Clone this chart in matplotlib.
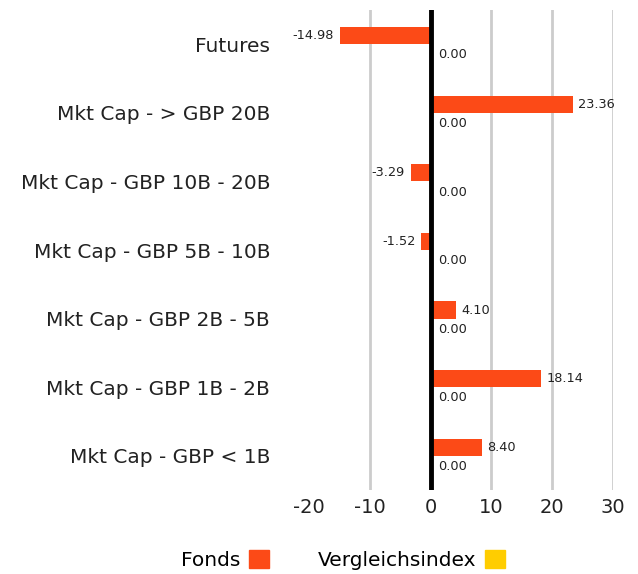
import matplotlib
matplotlib.use('Agg')
import numpy as np
import matplotlib.pyplot as plt
from matplotlib.patches import Patch

# dados
categorias = ['Futures', 'Mkt Cap - > GBP 20B', 'Mkt Cap - GBP 10B - 20B',
              'Mkt Cap - GBP 5B - 10B', 'Mkt Cap - GBP 2B - 5B',
              'Mkt Cap - GBP 1B - 2B', 'Mkt Cap - GBP < 1B']
fonds = [-14.98, 23.36, -3.29, -1.52, 4.10, 18.14, 8.40]
vergleichsindex = [0.00, 0.00, 0.00, 0.00, 0.00, 0.00, 0.00]
xticks = [-20, -10, 0, 10, 20, 30]

cor_fonds = '#fc4a17'
cor_index = '#ffcd00'

plt.rcParams['font.family'] = ['DejaVu Sans']

fig = plt.figure(figsize=(6.38, 5.74), dpi=100)
ax = fig.add_axes([309/638, 1 - 490/574, 304/638, 480/574])

y = np.arange(len(categorias))
h = 0.25
ax.barh(y - h/2, fonds, height=h, color=cor_fonds, zorder=3)
ax.barh(y + h/2, vergleichsindex, height=h, color=cor_index, zorder=3)

# rótulos de valor
for i, v in enumerate(fonds):
    if v < 0:
        ax.text(v - 0.9, y[i] - h/2, f'{v:.2f}', ha='right', va='center', fontsize=9.3, color='#222222')
    else:
        ax.text(v + 0.9, y[i] - h/2, f'{v:.2f}', ha='left', va='center', fontsize=9.3, color='#222222')
for i, v in enumerate(vergleichsindex):
    ax.text(v + 1.2, y[i] + h/2 + 0.03, f'{v:.2f}', ha='left', va='center', fontsize=9.3, color='#222222')

ax.set_xlim(-20, 30)
ax.set_ylim(len(categorias) - 0.5, -0.5)
ax.set_xticks(xticks)
ax.set_xticklabels([str(t) for t in xticks], fontsize=14, color='#222222')
ax.set_yticks(y)
ax.set_yticklabels(categorias, fontsize=14.5, color='#222222')
ax.tick_params(axis='y', length=0, pad=28)
ax.tick_params(axis='x', length=0, pad=6)

for t in xticks:
    if t == 0:
        ax.axvline(0, color='black', lw=3.5, zorder=4)
    elif t > -20:
        ax.axvline(t, color='#cccccc', lw=2, zorder=1)

for s in ax.spines.values():
    s.set_visible(False)

handles = [Patch(color=cor_fonds), Patch(color=cor_index)]
fig.legend(handles, ['Fonds', 'Vergleichsindex'], loc='center', bbox_to_anchor=(343/638, 1 - 560/574),
           ncol=2, frameon=False, markerfirst=False, fontsize=14.5, handlelength=1.0, handleheight=1.0,
           columnspacing=2.4, handletextpad=0.45)

fig.savefig('out.png', dpi=100)
plt.close(fig)
